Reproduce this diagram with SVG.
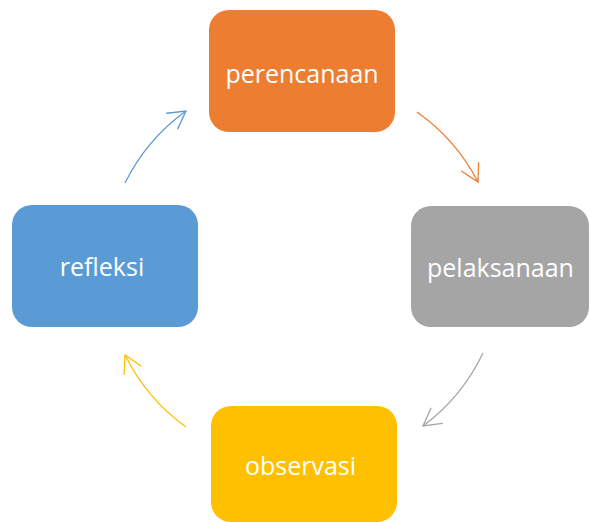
<svg xmlns="http://www.w3.org/2000/svg" width="590" height="522" viewBox="0 0 590 522">
  <style>
    .lbl { font-family: "Open Sans", "Liberation Sans", sans-serif; font-size: 25px; fill: #ffffff; text-anchor: middle; }
    .conn { fill: none; stroke-width: 1.3; }
    .head { fill: none; stroke-width: 1.3; stroke-linecap: round; stroke-linejoin: miter; }
  </style>
  <defs>
    <marker id="hOrange" markerUnits="userSpaceOnUse" orient="auto" overflow="visible" markerWidth="20" markerHeight="20" refX="0" refY="0">
      <path class="head" stroke="#ED7D31" d="M-17,-9.5 L0,0 L-17,9.5"/>
    </marker>
    <marker id="hGray" markerUnits="userSpaceOnUse" orient="auto" overflow="visible" markerWidth="20" markerHeight="20" refX="0" refY="0">
      <path class="head" stroke="#A5A5A5" d="M-17,-9.5 L0,0 L-17,9.5"/>
    </marker>
    <marker id="hYellow" markerUnits="userSpaceOnUse" orient="auto" overflow="visible" markerWidth="20" markerHeight="20" refX="0" refY="0">
      <path class="head" stroke="#FFC000" d="M-17,-9.5 L0,0 L-17,9.5"/>
    </marker>
    <marker id="hBlue" markerUnits="userSpaceOnUse" orient="auto" overflow="visible" markerWidth="20" markerHeight="20" refX="0" refY="0">
      <path class="head" stroke="#5B9BD5" d="M-17,-9.5 L0,0 L-17,9.5"/>
    </marker>
  </defs>
  <rect width="590" height="522" fill="#ffffff"/>
  <g id="connectors">
    <path class="conn" stroke="#ED7D31" d="M417,112 A196,196 0 0 1 478,182" marker-end="url(#hOrange)"/>
    <path class="conn" stroke="#A5A5A5" d="M483,353 A196,196 0 0 1 423,426" marker-end="url(#hGray)"/>
    <path class="conn" stroke="#FFC000" d="M186,427 A196,196 0 0 1 125,355" marker-end="url(#hYellow)"/>
    <path class="conn" stroke="#5B9BD5" d="M125,183 A196,196 0 0 1 186,111" marker-end="url(#hBlue)"/>
  </g>
  <g id="perencanaan">
    <rect x="209" y="10" width="186" height="122" rx="20" fill="#ED7D31"/>
    <text class="lbl" x="302" y="83">perencanaan</text>
  </g>
  <g id="pelaksanaan">
    <rect x="411" y="206" width="178" height="121" rx="20" fill="#A5A5A5"/>
    <text class="lbl" x="500.5" y="277">pelaksanaan</text>
  </g>
  <g id="observasi">
    <rect x="211" y="406" width="186" height="116" rx="20" fill="#FFC000"/>
    <text class="lbl" x="300.5" y="475">observasi</text>
  </g>
  <g id="refleksi">
    <rect x="12" y="205" width="186" height="122" rx="20" fill="#5B9BD5"/>
    <text class="lbl" x="102" y="276">refleksi</text>
  </g>
</svg>
